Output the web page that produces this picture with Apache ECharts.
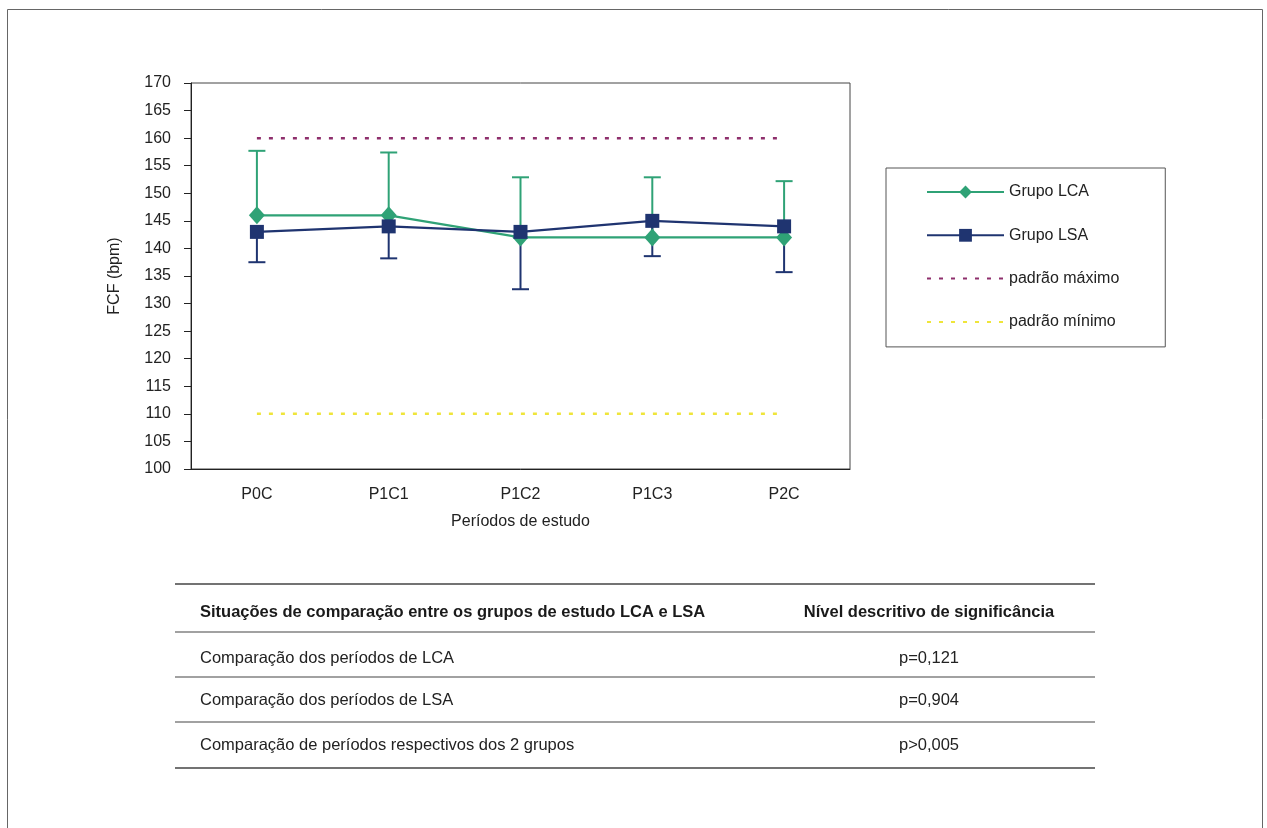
<!DOCTYPE html>
<html>
<head>
<meta charset="utf-8">
<script src="https://cdn.jsdelivr.net/npm/echarts@6/dist/echarts.min.js"></script>
<style>
  html, body { margin: 0; padding: 0; background: #fff; }
  #chart { width: 1267px; height: 828px; }
</style>
</head>
<body>
<div id="chart"></div>
<script>
// Periods of study (x categories)
var periods = ['P0C', 'P1C1', 'P1C2', 'P1C3', 'P2C'];

// Mean FCF (bpm) per group
var lcaMean = [146, 146, 142, 142, 142];
var lsaMean = [143, 144, 143, 145, 144];

// Error bar ends: LCA upward, LSA downward
var lcaUpper = [157.7, 157.4, 152.9, 152.9, 152.2];
var lsaLower = [137.5, 138.2, 132.6, 138.6, 135.7];

// Reference limits
var maxStandard = 160;
var minStandard = 110;

// Y axis range
var yMin = 100, yMax = 170, yStep = 5;

// Comparison table below the chart
var tableHeader = ['Situações de comparação entre os grupos de estudo LCA e LSA', 'Nível descritivo de significância'];
var tableSituations = ['Comparação dos períodos de LCA', 'Comparação dos períodos de LSA', 'Comparação de períodos respectivos dos 2 grupos'];
var tablePValues = ['p=0,121', 'p=0,904', 'p>0,005'];

var FONT = "'Liberation Sans', Arial, sans-serif";
var GREEN = '#2fa276';
var NAVY = '#1f3470';
var MAROON = '#8e2f6c';
var YELLOW = '#efe53a';

function errorBarSeries(name, means, ends, color) {
  return {
    type: 'custom',
    name: name + ' erro',
    z: 1,
    silent: true,
    data: means.map(function (m, i) { return [i, m, ends[i]]; }),
    renderItem: function (params, api) {
      var a = api.coord([api.value(0), api.value(1)]);
      var b = api.coord([api.value(0), api.value(2)]);
      var half = 8.5;
      return {
        type: 'group',
        children: [
          { type: 'line', shape: { x1: a[0], y1: a[1], x2: b[0], y2: b[1] },
            style: { stroke: color, lineWidth: 2 } },
          { type: 'line', shape: { x1: b[0] - half, y1: b[1], x2: b[0] + half, y2: b[1] },
            style: { stroke: color, lineWidth: 2 } }
        ]
      };
    }
  };
}

function constant(v) { return periods.map(function () { return v; }); }

// Table drawn as graphic elements
var tableLeft = 175, tableRight = 1095, textLeft = 200, valueCenter = 929;
var lineYs = [584, 632, 677, 722, 768];
var rowYs = [658, 700, 745];
var tableGraphics = [];
lineYs.forEach(function (y, i) {
  tableGraphics.push({
    type: 'line', silent: true,
    shape: { x1: tableLeft, y1: y, x2: tableRight, y2: y },
    style: { stroke: '#444', lineWidth: (i === 0 || i === lineYs.length - 1) ? 1.6 : 1.2 }
  });
});
tableGraphics.push({
  type: 'text', x: textLeft, y: 612,
  style: { text: tableHeader[0], font: 'bold 16.5px ' + FONT, fill: '#1a1a1a', textAlign: 'left', textVerticalAlign: 'middle' }
});
tableGraphics.push({
  type: 'text', x: valueCenter, y: 612,
  style: { text: tableHeader[1], font: 'bold 16.5px ' + FONT, fill: '#1a1a1a', textAlign: 'center', textVerticalAlign: 'middle' }
});
tableSituations.forEach(function (s, i) {
  tableGraphics.push({
    type: 'text', x: textLeft, y: rowYs[i],
    style: { text: s, font: '16.5px ' + FONT, fill: '#222', textAlign: 'left', textVerticalAlign: 'middle' }
  });
  tableGraphics.push({
    type: 'text', x: valueCenter, y: rowYs[i],
    style: { text: tablePValues[i], font: '16.5px ' + FONT, fill: '#222', textAlign: 'center', textVerticalAlign: 'middle' }
  });
});

var chart = echarts.init(document.getElementById('chart'), null, { renderer: 'canvas' });

chart.setOption({
  animation: false,
  backgroundColor: '#fff',
  textStyle: { fontFamily: FONT },
  graphic: [
    { type: 'rect', silent: true, z: -1,
      shape: { x: 7.5, y: 9.5, width: 1255, height: 840 },
      style: { fill: 'none', stroke: '#666', lineWidth: 1 } }
  ].concat(tableGraphics),
  grid: {
    left: 191, top: 83, right: 417, bottom: 359,
    show: true, borderColor: '#444', borderWidth: 1, backgroundColor: 'transparent'
  },
  legend: {
    orient: 'vertical',
    left: 886, top: 168,
    padding: [16, 46, 17, 40],
    itemGap: 27.3,
    itemWidth: 77,
    itemHeight: 16,
    borderColor: '#555',
    borderWidth: 1,
    textStyle: { fontSize: 16, color: '#222', fontFamily: FONT },
    data: [
      'Grupo LCA',
      'Grupo LSA',
      { name: 'padrão máximo', itemStyle: { opacity: 0 } },
      { name: 'padrão mínimo', itemStyle: { opacity: 0 } }
    ]
  },
  xAxis: {
    type: 'category',
    data: periods,
    boundaryGap: true,
    name: 'Períodos de estudo',
    nameLocation: 'middle',
    nameGap: 45,
    nameTextStyle: { fontSize: 16, color: '#222', fontFamily: FONT },
    axisLine: { lineStyle: { color: '#222', width: 1 } },
    axisTick: { length: 7, lineStyle: { color: '#222' } },
    axisLabel: { fontSize: 16, color: '#222', margin: 18, fontFamily: FONT },
    splitLine: { show: false }
  },
  yAxis: {
    type: 'value',
    min: yMin, max: yMax, interval: yStep,
    name: 'FCF (bpm)',
    nameLocation: 'middle',
    nameRotate: 90,
    nameGap: 68,
    nameTextStyle: { fontSize: 16, color: '#222', fontFamily: FONT },
    axisLine: { show: true, lineStyle: { color: '#222', width: 1 } },
    axisTick: { show: true, length: 7, lineStyle: { color: '#222' } },
    axisLabel: { fontSize: 16, color: '#222', margin: 20, fontFamily: FONT },
    splitLine: { show: false }
  },
  series: [
    errorBarSeries('Grupo LCA', lcaMean, lcaUpper, GREEN),
    errorBarSeries('Grupo LSA', lsaMean, lsaLower, NAVY),
    {
      name: 'padrão máximo', type: 'line', z: 2,
      data: constant(maxStandard),
      symbol: 'none',
      lineStyle: { color: MAROON, width: 2.5, type: [4, 8] },
      itemStyle: { color: MAROON }
    },
    {
      name: 'padrão mínimo', type: 'line', z: 2,
      data: constant(minStandard),
      symbol: 'none',
      lineStyle: { color: YELLOW, width: 2.5, type: [4, 8] },
      itemStyle: { color: YELLOW }
    },
    {
      name: 'Grupo LCA', type: 'line', z: 3,
      data: lcaMean,
      symbol: 'diamond', symbolSize: [16, 18],
      lineStyle: { color: GREEN, width: 2.2 },
      itemStyle: { color: GREEN }
    },
    {
      name: 'Grupo LSA', type: 'line', z: 4,
      data: lsaMean,
      symbol: 'rect', symbolSize: 14,
      lineStyle: { color: NAVY, width: 2.2 },
      itemStyle: { color: NAVY }
    }
  ]
});
</script>
</body>
</html>
